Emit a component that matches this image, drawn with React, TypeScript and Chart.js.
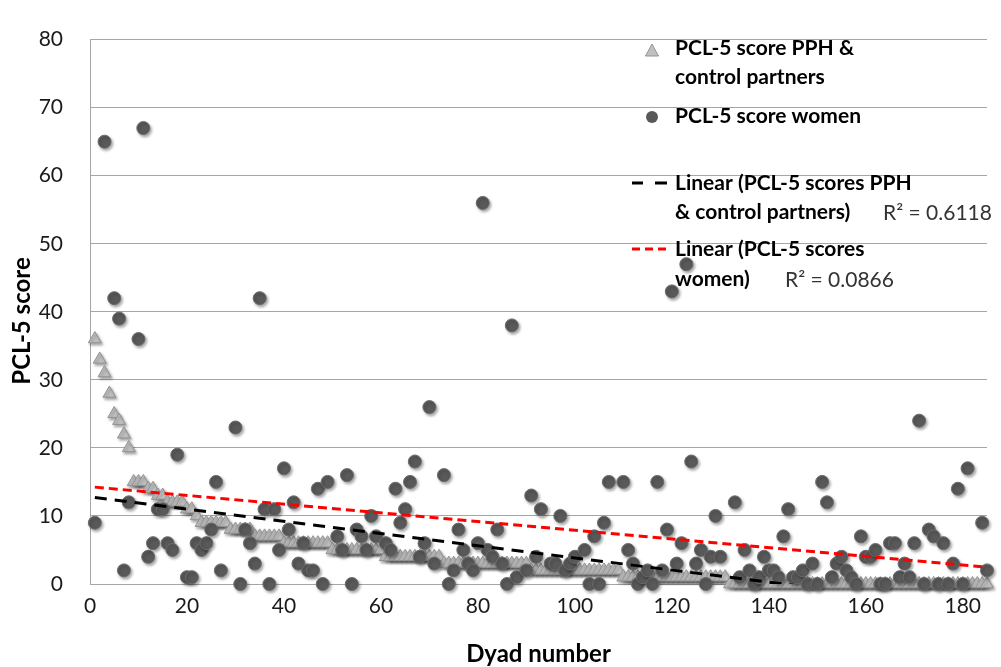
import React, { useEffect, useRef } from "react";
import { Chart, registerables } from "chart.js";

Chart.register(...registerables);

// ---------- data ----------
const partnerScores: number[] = [
  36, 33, 31, 28, 25, 24, 22, 20, 15, 15,
  15, 14, 14, 13, 13, 12, 12, 12, 12, 11,
  11, 10, 9, 9, 9, 9, 9, 9, 8, 8,
  8, 8, 8, 7, 7, 7, 7, 7, 7, 6,
  6, 6, 6, 6, 6, 6, 6, 6, 6, 5,
  5, 5, 5, 5, 5, 5, 5, 5, 5, 5,
  4, 4, 4, 4, 4, 4, 4, 4, 4, 4,
  4, 4, 3, 3, 3, 3, 3, 3, 3, 3,
  3, 3, 3, 3, 3, 3, 3, 3, 3, 3,
  2, 2, 2, 2, 2, 2, 2, 2, 2, 2,
  2, 2, 2, 2, 2, 2, 2, 2, 2, 1,
  1, 1, 1, 1, 1, 1, 1, 1, 1, 1,
  1, 1, 1, 1, 1, 1, 1, 1, 1, 1,
  1, 0, 0, 0, 0, 0, 0, 0, 0, 0,
  0, 0, 0, 0, 0, 0, 0, 0, 0, 0,
  0, 0, 0, 0, 0, 0, 0, 0, 0, 0,
  0, 0, 0, 0, 0, 0, 0, 0, 0, 0,
  0, 0, 0, 0, 0, 0, 0, 0, 0, 0,
  0, 0, 0, 0, 0,
];

const womenDyads: number[] = [
  1, 3, 5, 6, 7, 8, 10, 11, 12, 13, 14, 15, 16, 17, 18, 20, 21, 22, 23, 24,
  25, 26, 27, 30, 31, 32, 33, 34, 35, 36, 37, 38, 39, 40, 41, 42, 43, 44, 45, 46,
  47, 48, 49, 51, 52, 53, 54, 55, 56, 57, 58, 59, 61, 62, 63, 64, 65, 66, 67, 68,
  69, 70, 71, 73, 74, 75, 76, 77, 78, 79, 80, 81, 82, 83, 84, 85, 86, 87, 88, 90,
  91, 92, 93, 95, 96, 97, 98, 99, 100, 102, 103, 104, 105, 106, 107, 110, 111, 112, 113, 114,
  115, 116, 117, 118, 119, 120, 121, 122, 123, 124, 125, 126, 127, 128, 129, 130, 133, 134, 135, 136,
  137, 138, 139, 140, 141, 142, 143, 144, 145, 146, 147, 148, 149, 150, 151, 152, 153, 154, 155, 156,
  157, 158, 159, 160, 161, 162, 163, 164, 165, 166, 167, 168, 169, 170, 171, 172, 173, 174, 175, 176,
  177, 178, 179, 180, 181, 184, 185,
];

const womenScores: number[] = [
  9, 65, 42, 39, 2, 12, 36, 67, 4, 6, 11, 11, 6, 5, 19, 1, 1, 6, 5, 6,
  8, 15, 2, 23, 0, 8, 6, 3, 42, 11, 0, 11, 5, 17, 8, 12, 3, 6, 2, 2,
  14, 0, 15, 7, 5, 16, 0, 8, 7, 5, 10, 7, 6, 5, 14, 9, 11, 15, 18, 4,
  6, 26, 3, 16, 0, 2, 8, 5, 3, 2, 6, 56, 5, 4, 8, 3, 0, 38, 1, 2,
  13, 4, 11, 3, 3, 10, 2, 3, 4, 5, 0, 7, 0, 9, 15, 15, 5, 3, 0, 1,
  2, 0, 15, 2, 8, 43, 3, 6, 47, 18, 3, 5, 0, 4, 10, 4, 12, 1, 5, 2,
  0, 1, 4, 2, 2, 1, 7, 11, 1, 1, 2, 0, 3, 0, 15, 12, 1, 3, 4, 2,
  1, 0, 7, 4, 4, 5, 0, 0, 6, 6, 1, 3, 1, 6, 24, 0, 8, 7, 0, 6,
  0, 3, 14, 0, 17, 9, 2,
];

// linear trend lines (intercept, slope)
const partnerTrend = { intercept: 12.8, slope: -0.0896 };
const womenTrend = { intercept: 14.3, slope: -0.0639 };
const partnerR2 = "R\u00B2 = 0.6118";
const womenR2 = "R\u00B2 = 0.0866";

const xMin = 0;
const xMax = 185;
const xStep = 20;
const yMin = 0;
const yMax = 80;
const yStep = 10;

const seriesLabels = {
  partners: ["PCL-5 score PPH &", "control partners"],
  women: ["PCL-5 score women"],
  partnersTrend: ["Linear (PCL-5 scores PPH", "& control partners)"],
  womenTrend: ["Linear (PCL-5 scores", "women)"],
};
const xTitle = "Dyad number";
const yTitle = "PCL-5 score";

// ---------- styles ----------
const FONT = "Lato, 'Open Sans', sans-serif";
const TRI_FILL = "#c0c0c0";
const TRI_STROKE = "#939393";
const DOT_FILL = "#595959";
const DOT_STROKE = "#6b6b6b";
const GRID = "#a6a6a6";

export default function App() {
  const ref = useRef<HTMLCanvasElement | null>(null);

  useEffect(() => {
    const canvas = ref.current;
    if (!canvas) return;

    const partnerData = partnerScores.map((v, i) => ({ x: i + 1, y: v }));
    const womenData = womenDyads.map((d, i) => ({ x: d, y: womenScores[i] }));
    const pStart = 1;
    const pEnd = partnerScores.length;
    const wStart = womenDyads[0];
    const wEnd = womenDyads[womenDyads.length - 1];
    const partnerTrendData = [
      { x: pStart, y: partnerTrend.intercept + partnerTrend.slope * pStart },
      { x: pEnd, y: partnerTrend.intercept + partnerTrend.slope * pEnd },
    ];
    const womenTrendData = [
      { x: wStart, y: womenTrend.intercept + womenTrend.slope * wStart },
      { x: wEnd, y: womenTrend.intercept + womenTrend.slope * wEnd },
    ];

    const shadowPlugin = {
      id: "shadow",
      beforeDatasetDraw(chart: any, args: any) {
        const ctx = chart.ctx;
        ctx.save();
        if (args.index === 0 || args.index === 1) {
          ctx.shadowColor = "rgba(0,0,0,0.35)";
          ctx.shadowBlur = 3;
          ctx.shadowOffsetX = 1.5;
          ctx.shadowOffsetY = 2;
        }
      },
      afterDatasetDraw(chart: any) {
        chart.ctx.restore();
      },
    };

    const overlayPlugin = {
      id: "overlay",
      afterDraw(chart: any) {
        const ctx: CanvasRenderingContext2D = chart.ctx;
        const area = chart.chartArea;
        ctx.save();
        ctx.fillStyle = "#000";
        ctx.textBaseline = "middle";

        // axis titles
        ctx.font = `bold 24px ${FONT}`;
        ctx.textAlign = "center";
        ctx.fillText(xTitle, (area.left + area.right) / 2, 654);
        ctx.save();
        ctx.translate(22, 321);
        ctx.rotate(-Math.PI / 2);
        ctx.fillText(yTitle, 0, 0);
        ctx.restore();

        // legend
        const tx = 675;
        const mx = 652;
        ctx.textAlign = "left";
        ctx.font = `bold 21px ${FONT}`;

        // triangle marker
        ctx.beginPath();
        ctx.moveTo(mx, 44);
        ctx.lineTo(mx + 6.5, 56);
        ctx.lineTo(mx - 6.5, 56);
        ctx.closePath();
        ctx.fillStyle = TRI_FILL;
        ctx.fill();
        ctx.strokeStyle = TRI_STROKE;
        ctx.lineWidth = 1;
        ctx.stroke();
        ctx.fillStyle = "#000";
        ctx.fillText(seriesLabels.partners[0], tx, 48);
        ctx.fillText(seriesLabels.partners[1], tx, 77);

        // circle marker
        ctx.beginPath();
        ctx.arc(mx, 117, 6, 0, Math.PI * 2);
        ctx.fillStyle = DOT_FILL;
        ctx.fill();
        ctx.fillStyle = "#000";
        ctx.fillText(seriesLabels.women[0], tx, 116);

        // black dashed trend marker
        ctx.strokeStyle = "#000";
        ctx.lineWidth = 3;
        ctx.beginPath();
        ctx.moveTo(632, 183);
        ctx.lineTo(643, 183);
        ctx.moveTo(655, 183);
        ctx.lineTo(667, 183);
        ctx.stroke();
        ctx.fillText(seriesLabels.partnersTrend[0], tx, 183);
        ctx.fillText(seriesLabels.partnersTrend[1], tx, 212);

        // red dashed trend marker
        ctx.strokeStyle = "#ff0000";
        ctx.beginPath();
        ctx.moveTo(632, 249);
        ctx.lineTo(640, 249);
        ctx.moveTo(645, 249);
        ctx.lineTo(653, 249);
        ctx.moveTo(658, 249);
        ctx.lineTo(666, 249);
        ctx.stroke();
        ctx.fillText(seriesLabels.womenTrend[0], tx, 249);
        ctx.fillText(seriesLabels.womenTrend[1], tx, 279);

        // R² labels
        ctx.font = `21px ${FONT}`;
        ctx.fillStyle = "#333";
        ctx.fillText(partnerR2, 883, 213);
        ctx.fillText(womenR2, 785, 280);
        ctx.restore();
      },
    };

    const chart = new Chart(canvas, {
      type: "scatter",
      data: {
        datasets: [
          {
            label: "PCL-5 score PPH & control partners",
            data: partnerData,
            pointStyle: "triangle",
            pointRadius: 7.5,
            backgroundColor: TRI_FILL,
            borderColor: TRI_STROKE,
            borderWidth: 1,
            clip: false,
            order: 4,
          },
          {
            label: "PCL-5 score women",
            data: womenData,
            pointStyle: "circle",
            pointRadius: 6.5,
            backgroundColor: DOT_FILL,
            borderColor: DOT_STROKE,
            borderWidth: 1,
            clip: false,
            order: 3,
          },
          {
            label: "Linear (PCL-5 scores PPH & control partners)",
            data: partnerTrendData,
            showLine: true,
            pointRadius: 0,
            borderColor: "#000000",
            borderWidth: 3,
            borderDash: [12, 8],
            fill: false,
            clip: 0,
            order: 2,
          },
          {
            label: "Linear (PCL-5 scores women)",
            data: womenTrendData,
            showLine: true,
            pointRadius: 0,
            borderColor: "#ff0000",
            borderWidth: 3,
            borderDash: [9, 5],
            fill: false,
            clip: 0,
            order: 1,
          },
        ],
      },
      options: {
        responsive: false,
        animation: false,
        devicePixelRatio: 1,
        layout: { padding: { left: 0, right: 14, top: 20, bottom: 0 } },
        plugins: {
          legend: { display: false },
          tooltip: { enabled: false },
          title: { display: false },
        },
        scales: {
          x: {
            type: "linear",
            min: xMin,
            max: xMax,
            grid: { display: false, drawTicks: false },
            border: { display: true, color: GRID, width: 1 },
            ticks: {
              stepSize: xStep,
              includeBounds: false,
              padding: 10,
              color: "#1a1a1a",
              font: { family: FONT, size: 21 },
              maxRotation: 0,
            },
            afterFit(scale: any) {
              scale.height = 83;
            },
          },
          y: {
            type: "linear",
            min: yMin,
            max: yMax,
            grid: { color: GRID, lineWidth: 1, drawTicks: false },
            border: { display: true, color: GRID, width: 1 },
            ticks: {
              stepSize: yStep,
              padding: 27,
              color: "#1a1a1a",
              font: { family: FONT, size: 21 },
            },
            afterFit(scale: any) {
              scale.width = 90;
            },
          },
        },
      },
      plugins: [shadowPlugin, overlayPlugin],
    } as any);

    return () => chart.destroy();
  }, []);

  return (
    <div style={{ position: "absolute", left: 0, top: 0, width: 1001, height: 667, background: "#fff" }}>
      <canvas ref={ref} width={1001} height={667} style={{ display: "block" }} />
    </div>
  );
}
